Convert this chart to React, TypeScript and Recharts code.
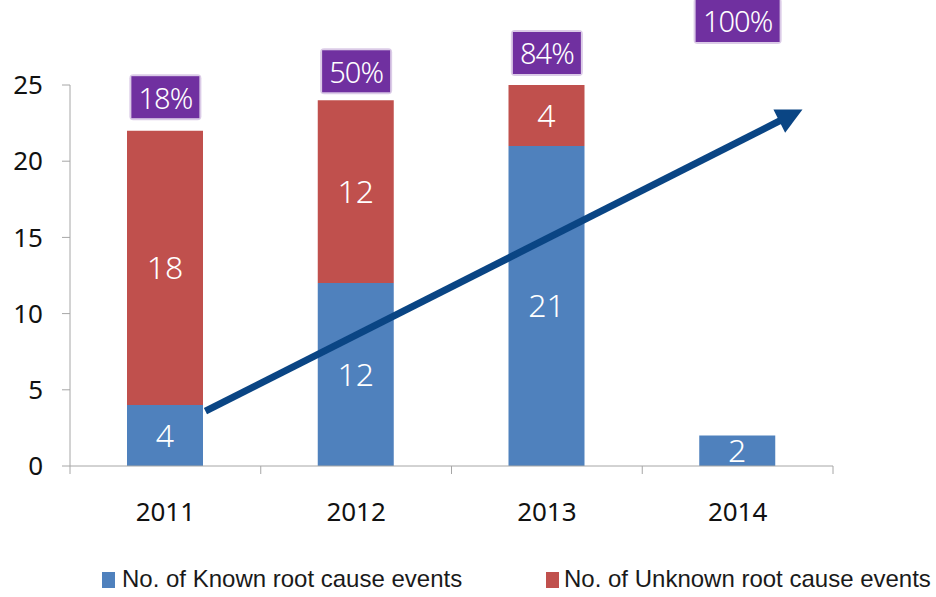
import React from 'react';
import {
  BarChart, Bar, XAxis, YAxis, LabelList, ReferenceDot, ReferenceLine, Legend,
} from 'recharts';

const years = ['2011', '2012', '2013', '2014'];
const knownEvents = [4, 12, 21, 2];
const unknownEvents: (number | null)[] = [18, 12, 4, null];
const pctLabels = ['18%', '50%', '84%', '100%'];
const pctLabelLevels = [24.2, 25.9, 27.1, 29.2];
const yTicks = [0, 5, 10, 15, 20, 25];
const boundaryTicks = [-0.5, 0.5, 1.5, 2.5, 3.5];
const arrowStart = { x: 0.21, y: 3.6 };
const arrowEnd = { x: 3.34, y: 23.4 };

const seriesNames = ['No. of Known root cause events', 'No. of Unknown root cause events'];
const BLUE = '#4F81BD';
const RED = '#C0504D';
const PURPLE = '#7030A0';
const ARROW = '#0A4584';
const AXIS = '#A6A6A6';
const FONT = '"Noto Sans", "DejaVu Sans", sans-serif';

const data = years.map((y, i) => ({
  year: y,
  known: knownEvents[i],
  unknown: unknownEvents[i],
}));

const PctBox = (label: string) => (props: any) => {
  const { cx, cy } = props;
  const w = label.length * 16 + 20;
  const h = 42;
  return (
    <g>
      <rect x={cx - w / 2 - 2} y={cy - h / 2 - 2} width={w + 4} height={h + 4} rx={4} fill={PURPLE} opacity={0.25} />
      <rect x={cx - w / 2} y={cy - h / 2} width={w} height={h} fill={PURPLE} />
      <text x={cx} y={cy} textAnchor="middle" dominantBaseline="central" fill="#fff"
        fontFamily={FONT} fontSize={29} fontWeight={300} letterSpacing={-1}>{label}</text>
    </g>
  );
};

const ArrowShape = (props: any) => {
  const { x1, y1, x2, y2 } = props;
  const ang = Math.atan2(y2 - y1, x2 - x1);
  const len = 26;
  const half = 13;
  const bx = x2 - len * Math.cos(ang);
  const by = y2 - len * Math.sin(ang);
  const px = -Math.sin(ang);
  const py = Math.cos(ang);
  const pts = `${x2},${y2} ${bx + px * half},${by + py * half} ${bx - px * half},${by - py * half}`;
  return (
    <g>
      <line x1={x1} y1={y1} x2={bx + 2 * Math.cos(ang)} y2={by + 2 * Math.sin(ang)} stroke={ARROW} strokeWidth={7} />
      <polygon points={pts} fill={ARROW} />
    </g>
  );
};

const LegendContent = () => (
  <div style={{ position: 'relative', width: 936, height: 53, fontFamily: '"Liberation Sans", Arial, sans-serif', fontSize: 24, color: '#1a1a1a' }}>
    <div style={{ position: 'absolute', left: 102, top: 28, width: 13, height: 16, background: BLUE }} />
    <div style={{ position: 'absolute', left: 122, top: 20, whiteSpace: 'nowrap', lineHeight: '30px' }}>{seriesNames[0]}</div>
    <div style={{ position: 'absolute', left: 546, top: 28, width: 13, height: 16, background: RED }} />
    <div style={{ position: 'absolute', left: 564, top: 20, whiteSpace: 'nowrap', lineHeight: '30px' }}>{seriesNames[1]}</div>
  </div>
);

const bigLabel = (v: any) => (v === null || v === undefined ? '' : v);

export default function App() {
  return (
    <div style={{ position: 'absolute', left: 0, top: 0, width: 936, height: 597, background: '#fff' }}>
      <BarChart width={936} height={597} data={data} margin={{ top: 85, right: 103, bottom: 0, left: 0 }} barSize={76}>
        <XAxis xAxisId="a" type="number" dataKey="idx" domain={[-0.5, 3.5]} ticks={boundaryTicks}
          tickFormatter={() => ''} height={8} tickSize={8} stroke={AXIS} axisLine={{ stroke: AXIS }} tickLine={{ stroke: AXIS }} allowDataOverflow />
        <XAxis xAxisId="b" dataKey="year" height={70} axisLine={false} tickLine={false} tickMargin={23}
          tick={{ fill: '#111', fontSize: 26, fontFamily: FONT }} />
        <YAxis domain={[0, 25]} ticks={yTicks} width={70} tickSize={8} tickMargin={19} interval={0}
          axisLine={{ stroke: AXIS }} tickLine={{ stroke: AXIS }}
          tick={{ fill: '#111', fontSize: 26, fontFamily: FONT }} />
        <Bar xAxisId="b" dataKey="known" stackId="s" fill={BLUE} name={seriesNames[0]} isAnimationActive={false}>
          <LabelList dataKey="known" position="center" fill="#fff" fontSize={32} fontFamily={FONT} fontWeight={300} formatter={bigLabel} />
        </Bar>
        <Bar xAxisId="b" dataKey="unknown" stackId="s" fill={RED} name={seriesNames[1]} isAnimationActive={false}>
          <LabelList dataKey="unknown" position="center" fill="#fff" fontSize={32} fontFamily={FONT} fontWeight={300} formatter={bigLabel} />
        </Bar>
        {years.map((y, i) => (
          <ReferenceDot key={y} xAxisId="b" x={y} y={pctLabelLevels[i]} ifOverflow="visible" shape={PctBox(pctLabels[i])} />
        ))}
        <ReferenceLine xAxisId="a" segment={[arrowStart, arrowEnd]} ifOverflow="visible" shape={ArrowShape} />
        <Legend verticalAlign="bottom" height={53} content={LegendContent}
          wrapperStyle={{ left: 0, width: 936, bottom: 0, height: 53 }} />
      </BarChart>
    </div>
  );
}
